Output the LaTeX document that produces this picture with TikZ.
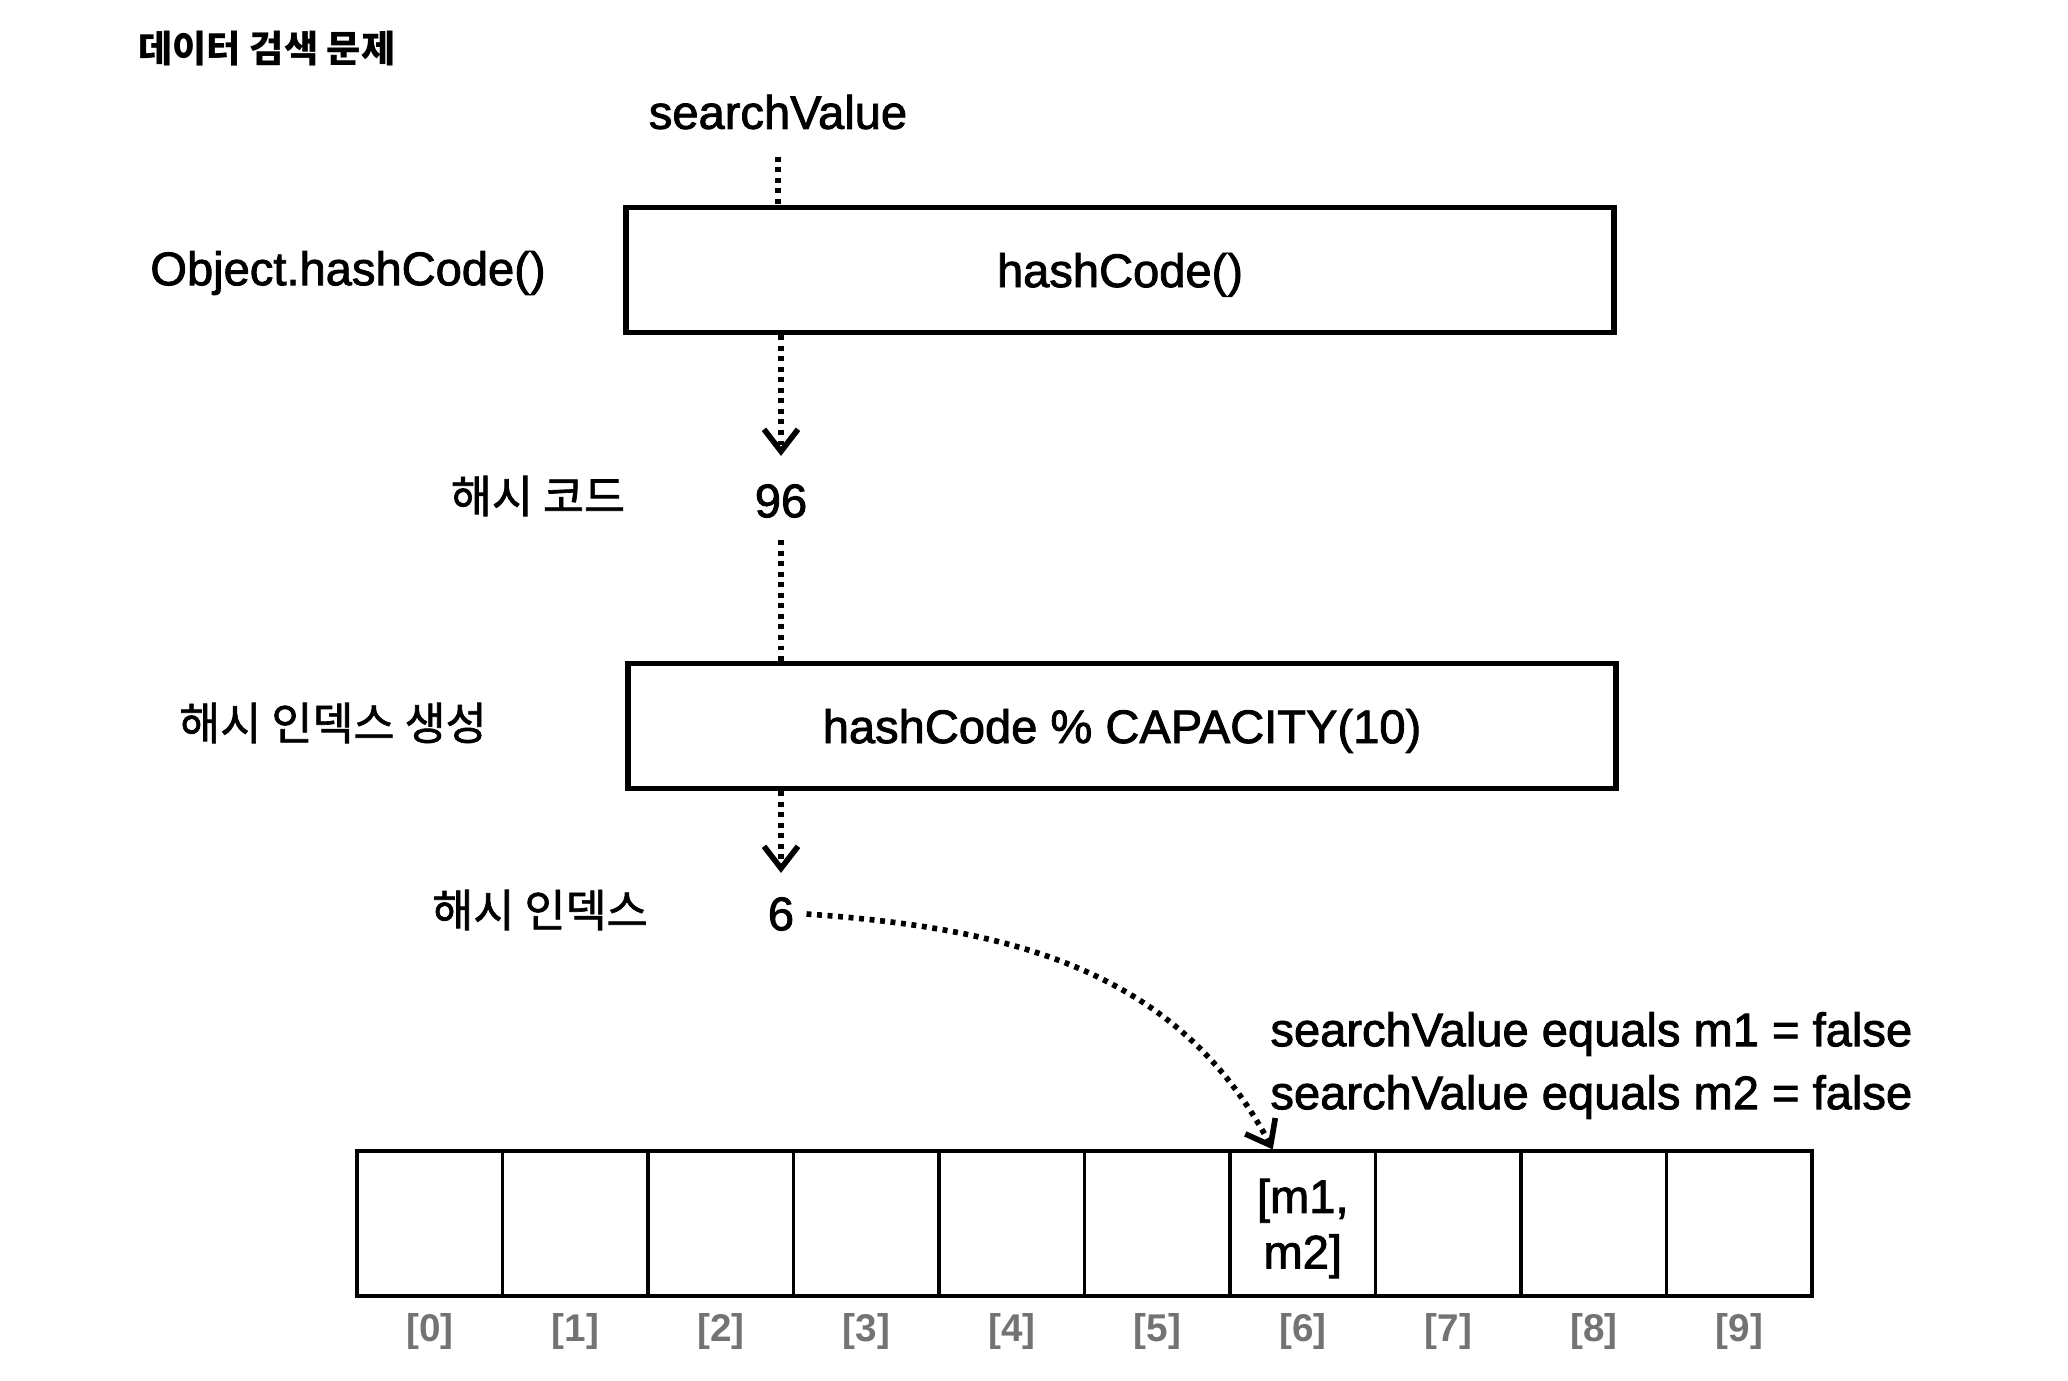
\documentclass[tikz,border=0pt]{standalone}
\usepackage{fontspec}
\setmainfont{Liberation Sans}[UprightFeatures={FakeBold=1.8}]
\newfontfamily\kr{Noto Sans CJK KR}
\newfontfamily\krmed{Noto Sans CJK KR}[UprightFeatures={FakeBold=1.5}]
\usetikzlibrary{arrows.meta, positioning}
\tikzset{
    codebox/.style={draw, line width=1.5pt, minimum width=9.88cm, minimum height=1.25cm, text depth=0pt},
    cell/.style={draw, line width=0.9pt, minimum width=1.455cm, minimum height=1.45cm},
    dotline/.style={line width=1.6pt, dash pattern=on 1.4pt off 1.6pt},
    idx/.style={text=black!55, font=\fontsize{11}{13}\selectfont\bfseries},
    krlabel/.style={font=\fontsize{12.7}{15}\selectfont\krmed},
}
\begin{document}
\begin{tikzpicture}[every node/.style={font=\fontsize{13.4}{15.8}\selectfont}, >={Straight Barb[length=2.2mm,width=3.4mm]}]
        \useasboundingbox (0,0) rectangle (20.68,-13.80);
        \node[anchor=west, font=\fontsize{10.6}{13}\selectfont\kr\bfseries] (title) at (1.26,-0.49) {데이터 검색 문제};
        \node (sv) at (7.78,-1.12) {searchValue};
        \node[codebox] (hc) at (11.20,-2.70) {hashCode()};
        \node (objhc) at (3.48,-2.73) {Object.hashCode()};
        \node (n96) at (7.81,-5.01) {96};
        \node[krlabel] (hcode) at (5.38,-4.96) {해시 코드};
        \node[codebox] (hidx) at (11.22,-7.26) {hashCode \% CAPACITY(10)};
        \node[krlabel] (mkidx) at (3.33,-7.23) {해시 인덱스 생성};
        \node (n6) at (7.81,-9.14) {6};
        \node[krlabel] (idxlabel) at (5.40,-9.10) {해시 인덱스};
        \node[anchor=west] (eq1) at (12.58,-10.34) {searchValue equals m1 = false};
        \node[anchor=west] (eq2) at (12.58,-10.97) {searchValue equals m2 = false};
        % hash table
        \foreach \i in {0,...,9} {
            \node[cell] (c\i) at ({4.2975+1.455*\i},-12.235) {};
            \node[idx, below=0.03cm of c\i] (i\i) {[\i]};
        }
        \node[align=center] (bucket) at ([yshift=-0.05cm]c6) {[m1,\\m2]};
        \draw[dotline, shorten <=0.15cm] (sv) -- (sv |- hc.north);
        \draw[dotline, ->, shorten >=0.16cm] (hc.south -| n96) -- (n96);
        \draw[dotline, shorten <=0.1cm] (n96) -- (n96 |- hidx.north);
        \draw[dotline, ->, shorten >=0.12cm] (hidx.south -| n6) -- (n6);
        \draw[dotline, ->] (n6.east) to[out=-4, in=118] ([xshift=-0.3cm]c6.north);
    \end{tikzpicture}
\end{document}
